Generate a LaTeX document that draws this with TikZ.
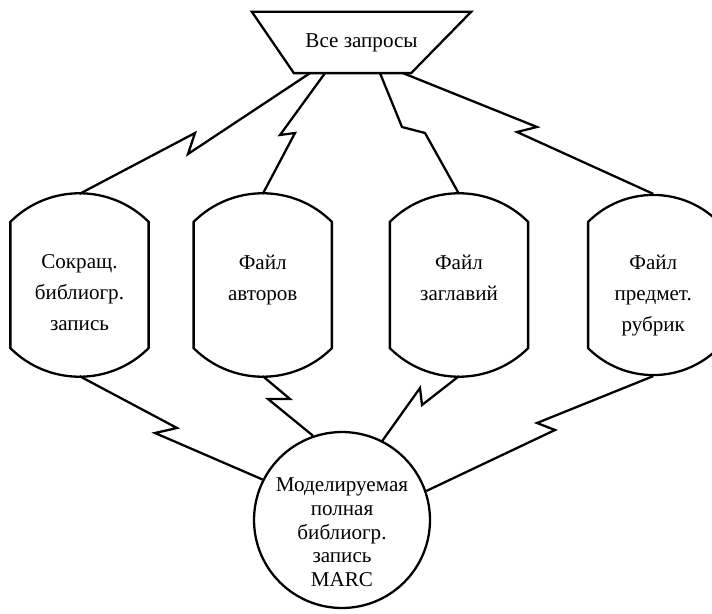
\documentclass[tikz,border=0pt]{standalone}
\usepackage{fontspec}
\setmainfont{Liberation Serif}
\usetikzlibrary{positioning, calc}

\begin{document}
\begin{tikzpicture}[
    x=0.02cm, y=0.02cm,
    line width=1.3pt,
    query/.style={rectangle, minimum width=4.34cm, minimum height=1.18cm, inner sep=0pt, font=\fontsize{12}{14}\selectfont},
    barrel/.style={rectangle, minimum width=2.72cm, minimum height=3.6cm, inner sep=0pt},
    marc/.style={circle, draw, minimum size=3.52cm, inner sep=0pt},
    lbl/.style={align=center, inner sep=0pt, font=\fontsize{12}{17.6}\selectfont},
    clbl/.style={align=center, inner sep=0pt, font=\fontsize{12}{13.5}\selectfont},
    zap/.style={draw, line join=miter}
]
    \useasboundingbox (0,0) rectangle (712,-614);

    % Nodes
    % Query box on top
    \node [query] (q) at (361.5,-42.5) {Все запросы};
    \draw (q.north west) -- (q.north east) -- ([xshift=-1.2cm]q.south east)
        -- ([xshift=0.84cm]q.south west) -- cycle;

    % Files in a row
    \node [barrel] (b1) at (79.5,-285) {};
    \node [barrel, right=0.9cm of b1] (b2) {};
    \node [barrel, right=1.16cm of b2] (b3) {};
    \node [barrel, right=1.2cm of b3, minimum width=2.56cm] (b4) {};

    % Barrel outlines
    \foreach \b in {b1,b2,b3,b4}
        \draw ([yshift=-0.56cm]\b.north west) to[bend left=45] ([yshift=-0.56cm]\b.north east)
            -- ([yshift=0.56cm]\b.south east) to[bend left=45] ([yshift=0.56cm]\b.south west) -- cycle;

    \node [lbl, below=1.2cm of b1.north] (t1) {Сокращ.\\библиогр.\\запись};
    \node [lbl, below=1.2cm of b2.north] (t2) {Файл\\авторов};
    \node [lbl, below=1.2cm of b3.north] (t3) {Файл\\заглавий};
    \node [lbl, below=1.2cm of b4.north] (t4) {Файл\\предмет.\\рубрик};

    % Full record at the bottom
    \node [marc] (c) at (342,-520) {};
    \node [clbl, below=0.92cm of c.north] (ct) {Моделируемая\\полная\\библиогр.\\запись\\MARC};

    % Connections
    % Queries to files
    \draw [zap] ($(q.south)+(-51.5,0)$) -- (188,-154) -- (195,-133) -- (b1.north);
    \draw [zap] ($(q.south)+(-36.5,0)$) -- (280,-135) -- (295,-133) -- (b2.north);
    \draw [zap] ($(q.south)+(18.5,0)$) -- (402,-127) -- (425,-133) -- (b3.north);
    \draw [zap] ($(q.south)+(41.5,0)$) -- (537,-127) -- (517,-132) -- (b4.north);

    % Files to full record
    \draw [zap] (b1.south) -- (177,-428) -- (155,-433) -- (c.153);
    \draw [zap] (b2.south) -- (290,-399) -- (268,-399) -- (c.109);
    \draw [zap] (b3.south) -- (422,-405) -- (420,-388) -- (c.63);
    \draw [zap] (b4.south) -- (537,-423) -- (555,-430) -- (c.19);

\end{tikzpicture}
\end{document}
